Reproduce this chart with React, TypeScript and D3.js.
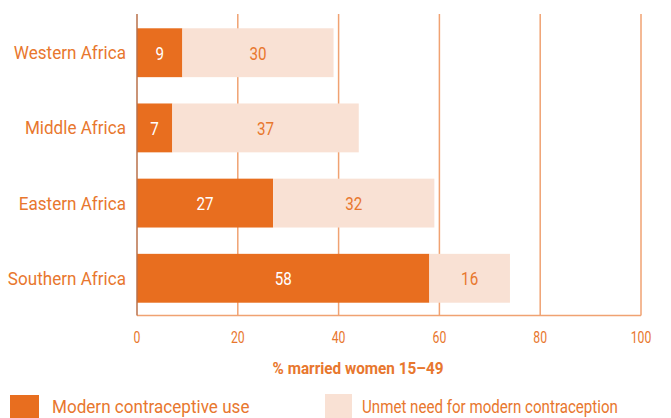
import React from "react";
import * as d3 from "d3";

const regions = ["Western Africa", "Middle Africa", "Eastern Africa", "Southern Africa"];
const modernUse = [9, 7, 27, 58];
const unmetNeed = [30, 37, 32, 16];
const xTicks = [0, 20, 40, 60, 80, 100];
const seriesNames = ["Modern contraceptive use", "Unmet need for modern contraception"];
const axisTitle = "% married women 15–49";

const W = 671;
const H = 418;
const DARK = "#E86E1F";
const LIGHT = "#F9E1D4";
const TEXT = "#E8772E";
const GRID = "#F0A272";
const FONT = "Roboto, 'Noto Sans', sans-serif";

type TProps = {
  x: number;
  y: number;
  size: number;
  sx: number;
  anchor?: "start" | "middle" | "end";
  fill?: string;
  weight?: string | number;
  children: React.ReactNode;
};

function T({ x, y, size, sx, anchor = "start", fill = TEXT, weight = "normal", children }: TProps) {
  return (
    <text
      transform={`translate(${x},${y}) scale(${sx},1)`}
      dy="0.36em"
      textAnchor={anchor}
      fill={fill}
      fontSize={size}
      fontWeight={weight}
    >
      {children}
    </text>
  );
}

export default function App() {
  const x = d3.scaleLinear().domain([0, 100]).range([137, 641]);
  const y = d3.scaleBand().domain(regions).range([14, 317]).paddingInner(0.35).paddingOuter(0.19);
  const top = 14;
  const bottom = 315.5;

  return (
    <svg width={W} height={H} style={{ position: "absolute", left: 0, top: 0, background: "#fff" }} fontFamily={FONT}>
      {xTicks.slice(1).map((t) => (
        <line key={t} x1={x(t)} x2={x(t)} y1={top} y2={bottom} stroke={GRID} strokeWidth={1.5} />
      ))}
      <line x1={x(0)} x2={x(100)} y1={bottom} y2={bottom} stroke={GRID} strokeWidth={1.5} />
      {regions.map((r, i) => {
        const y0 = y(r)!;
        const bh = y.bandwidth();
        const a = modernUse[i];
        const b = unmetNeed[i];
        const cy = y0 + bh / 2;
        return (
          <g key={r}>
            <rect x={x(0)} y={y0} width={x(a) - x(0)} height={bh} fill={DARK} />
            <rect x={x(a)} y={y0} width={x(a + b) - x(a)} height={bh} fill={LIGHT} />
            <T x={(x(0) + x(a)) / 2} y={cy} size={19} sx={0.8} anchor="middle" fill="#fff">
              {a}
            </T>
            <T x={(x(a) + x(a + b)) / 2} y={cy} size={19} sx={0.8} anchor="middle">
              {b}
            </T>
            <T x={126} y={cy} size={18} sx={0.95} anchor="end">
              {r}
            </T>
          </g>
        );
      })}
      <line x1={x(0)} x2={x(0)} y1={top} y2={bottom} stroke="#B9714A" strokeWidth={1.5} />
      {xTicks.map((t) => (
        <T key={t} x={x(t)} y={337} size={17} sx={0.72} anchor="middle">
          {t}
        </T>
      ))}
      <T x={358} y={368} size={17} sx={0.9} anchor="middle" weight="bold">
        {axisTitle}
      </T>
      <rect x={10} y={395} width={29} height={23} fill={DARK} />
      <T x={52} y={407} size={18} sx={0.95}>
        {seriesNames[0]}
      </T>
      <rect x={325} y={394} width={27} height={24} fill={LIGHT} />
      <T x={362} y={407} size={18} sx={0.84}>
        {seriesNames[1]}
      </T>
    </svg>
  );
}
